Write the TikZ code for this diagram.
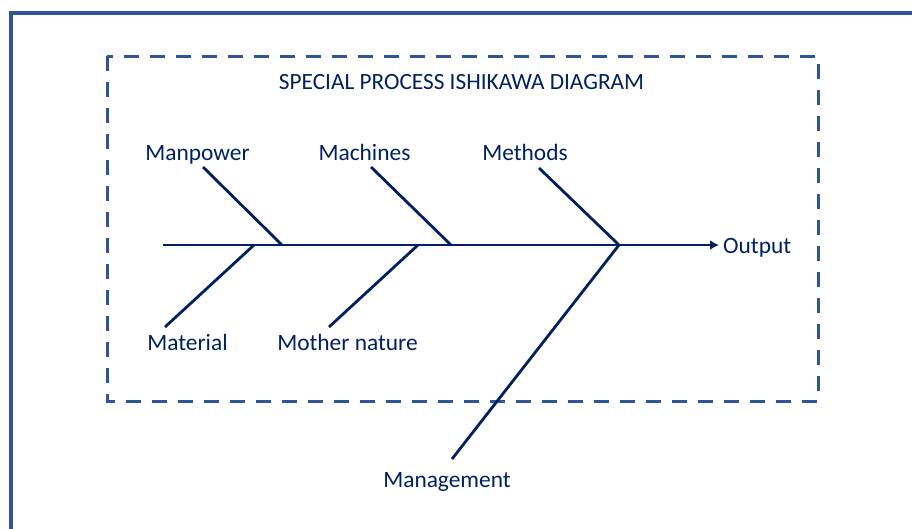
\documentclass[tikz,border=0pt]{standalone}
\usepackage{fontspec}
\setmainfont{Carlito}
\usetikzlibrary{arrows.meta, positioning}
\definecolor{frameblue}{RGB}{47,85,151}
\definecolor{bonenavy}{RGB}{0,32,96}
\tikzset{
	cause/.style={text=bonenavy, inner sep=0pt, anchor=base, font=\fontsize{23.4}{28}\selectfont},
	titletext/.style={text=bonenavy, inner sep=0pt, anchor=base, font=\fontsize{23.3}{28}\selectfont},
	bone/.style={draw=bonenavy, line width=2.8pt},
	% dashed box round the fishbone
	scopebox/.style={draw=frameblue, line width=3pt, dash pattern=on 15pt off 11pt},
	outerframe/.style={draw=frameblue, line width=3.5pt},
}
\begin{document}
\begin{tikzpicture}[x=1pt, y=-1pt]
	\useasboundingbox (0,0) rectangle (912,528);
	\clip (0,0) rectangle (912,528);
	
	\draw[outerframe] (11,13) rectangle (940,560);
	\draw[scopebox] (107,56) rectangle (818,401);
	
	\node (title) [titletext] at (461.5,89) {SPECIAL PROCESS ISHIKAWA DIAGRAM};
	
	\node (manpower) [cause] at (197.5,160) {Manpower};
	\node (machines) [cause] at (364.5,160) {Machines};
	\node (methods) [cause] at (525,160) {Methods};
	\node (material) [cause] at (187.5,350) {Material};
	\node (nature) [cause] at (347.5,350) {Mother nature};
	\node (management) [cause] at (447,487) {Management};
	\node (output) [cause, anchor=base west] at (723,253) {Output};
	
	% spine and where the bones meet it
	\coordinate (tail) at (163,245);
	\coordinate (j1) at (282,245);
	\coordinate (j2) at (451,245);
	\coordinate (j3) at (619,245);
	\coordinate (j4) at (254,245);
	\coordinate (j5) at (418,245);
	
	% free ends of the bones
	\coordinate (manpower-end) at (203,167);
	\coordinate (machines-end) at (371,167);
	\coordinate (methods-end) at (539,168);
	\coordinate (material-end) at (165,327);
	\coordinate (nature-end) at (329,327);
	\coordinate (management-end) at (452,459);
	
	\begin{scope}[bone]
		\draw[-{Latex[length=9pt, width=10pt]}, shorten >=4pt] (tail) -- (tail -| output.west);
		
		\draw (manpower-end) -- (j1);
		\draw (machines-end) -- (j2);
		\draw (methods-end) -- (j3);
		\draw (material-end) -- (j4);
		\draw (nature-end) -- (j5);
		\draw (management-end) -- (j3);
	\end{scope}
\end{tikzpicture}
\end{document}
